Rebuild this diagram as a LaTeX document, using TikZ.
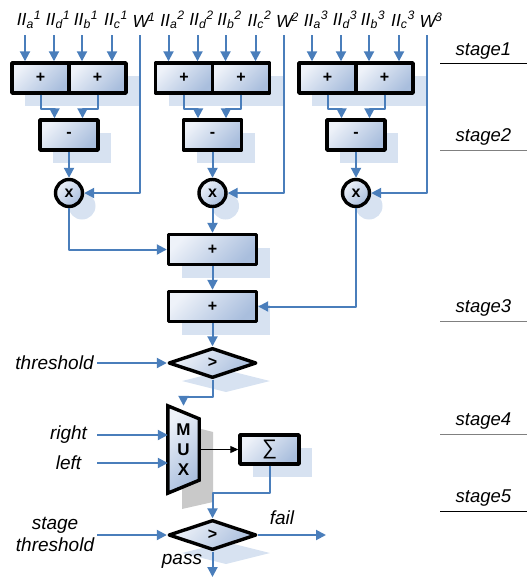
\documentclass[tikz,border=0pt]{standalone}
\usepackage{fontspec}
\setmainfont{Liberation Sans}
\usetikzlibrary{arrows.meta,shapes.geometric,shadows}
\definecolor{wire}{HTML}{4A7EBB}
\definecolor{boxlt}{HTML}{EEF2F9}
\definecolor{boxdk}{HTML}{A9BEDD}
\definecolor{shad}{HTML}{D7E2F1}
\definecolor{muxsh}{HTML}{C9C9C9}
\pgfdeclarelayer{back}
\pgfsetlayers{back,main}
\newcommand{\fsz}[1]{\fontsize{#1}{#1}\selectfont}
\tikzset{fig/.style={x=1pt,y=-1pt,line join=round,>={Triangle[length=10pt,width=10pt]}},
  bus/.style={wire,line width=2pt},
  tap/.style={black,line width=1pt,-{Triangle[length=8pt,width=7pt]}},
  opfill/.style={draw=black,line width=3.4pt,top color=boxlt,bottom color=boxdk,shading angle=45,
    inner sep=0pt,minimum height=30pt,font=\bfseries\fsz{16}},
  op/.style={opfill,drop shadow={shadow xshift=13pt,shadow yshift=-13pt,fill=shad,opacity=1}},
  mul/.style={op,circle,minimum size=27pt},
  cmp/.style={opfill,diamond,aspect=2.9,minimum width=88pt,minimum height=30pt},
  inlab/.style={font=\itshape\fsz{17.5},inner sep=0pt,minimum height=30pt},
  side/.style={font=\itshape\fontsize{19}{22}\selectfont,align=center,inner sep=1pt},
  stg/.style={font=\itshape\fsz{18.5},inner sep=0pt}}

\begin{document}
\begin{tikzpicture}[fig]
  \useasboundingbox (0,0) rectangle (532,578);
  % stage marks on the right
  \foreach \n/\y/\c in {1/64/black,2/150/gray,3/321/gray,4/434/gray,5/511/black}
    \draw[\c,line width=1pt] (440,\y) -- (527,\y) node[stg,midway,above=4pt,black] (st\n) {stage\n};
  % three feature blocks: two adders, subtract, weight
  \foreach \g in {1,2,3}{
    \pgfmathsetmacro\ox{143.5*(\g-1)}
    \begin{scope}[xshift=\ox pt]
      \node[op,minimum width=57pt] (pa\g) at (40.5,78) {+};
      \node[op,minimum width=57pt] (pb\g) at (97.5,78) {+};
      \node[op,minimum width=58pt] (sb\g) at (69,135) {-};
      \node[mul] (m\g) at (69,193) {x};
      \foreach \s/\xx in {a/25,d/54,b/82,c/112}{
        \node[inlab] (i\s\g) at (\xx+4,20) {II\textsubscript{\s}\textsuperscript{\g}};
        \draw[bus,->] ([xshift=-4pt]i\s\g.south) -- ([xshift=-4pt]i\s\g.south |- pa\g.north);}
      \node[inlab] (w\g) at (144,20) {W\kern-1pt\textsuperscript{\g}};
      \draw[bus,->] ([xshift=-4pt]w\g.south) |- (m\g.east);
      \draw[bus,->] (pa\g.south) -- ++(0,14) -| ([xshift=-14.5pt]sb\g.north);
      \draw[bus,->] (pb\g.south) -- ++(0,14) -| ([xshift=13.5pt]sb\g.north);
      \draw[bus,->] (sb\g) -- (m\g);
    \end{scope}}
  % sum of weighted features
  \node[op,minimum width=88pt] (ad1) at (212.5,249.5) {+};
  \node[op,minimum width=88pt] (ad2) at (212.5,306.5) {+};
  \draw[bus,->] (m1) |- (ad1);
  \draw[bus,->] (m2) -- (ad1);
  \draw[bus,->] (ad1) -- (ad2);
  \draw[bus,->] (m3) |- (ad2);
  % feature threshold
  \fill[shad] (182,381) -- (226,370) -- (270,381) -- (226,392) -- cycle;
  \node[cmp] (th) at (212.5,363) {>};
  \node[side] (thl) at (54.5,363) {threshold};
  \coordinate (th0) at (97,363);
  \draw[bus,->] (th0) -- (th);
  \draw[bus,->] (ad2) -- (th);
  % mux and stage sum
  \node[font=\bfseries\fontsize{17}{20}\selectfont,align=center,inner sep=0pt,
    minimum width=31pt,minimum height=87pt] (mux) at (183.5,449.5) {M\\U\\X};
  \begin{pgfonlayer}{back}
    \fill[muxsh] (182,424) -- (213,432) -- (213,502) -- (182,509) -- cycle;
    \draw[opfill] (mux.north west) -- ([yshift=-13pt]mux.north east)
      -- ([yshift=13pt]mux.south east) -- (mux.south west) -- cycle;
  \end{pgfonlayer}
  \draw[bus,->] (th.south) -- ++(0,17) -| (mux.north);
  \node[side] (rt) at (68.5,435) {right};
  \node[side] (lf) at (68.5,463) {left};
  \coordinate (rt0) at (97,435);
  \coordinate (lf0) at (97,463);
  \draw[bus,->] (rt0) -- (rt0 -| mux.west);
  \draw[bus,->] (lf0) -- (lf0 -| mux.west);
  \node[op,minimum width=59pt,minimum height=29pt,font=\mdseries\fsz{21}] (sm) at (269.5,449.5) {∑};
  \draw[tap] (mux.east) -- (sm.west);
  % stage threshold and result
  \fill[shad] (182,553) -- (226,542) -- (270,553) -- (226,564) -- cycle;
  \node[cmp] (ps) at (212.5,535) {>};
  \draw[bus,->] (sm.south) -- ++(0,27) -| (ps.north);
  \node[side] (stl) at (55,534) {stage\\threshold};
  \coordinate (st0) at (97,535);
  \draw[bus,->] (st0) -- (ps);
  \coordinate (fl) at (326,535);
  \draw[bus,->] (ps.east) -- (fl);
  \node[side] (fll) at (282,518) {fail};
  \coordinate (pp) at (212.5,577);
  \draw[bus,->] (ps.south) -- (pp);
  \node[side] (ppl) at (182,561) {pass};
\end{tikzpicture}
\end{document}
